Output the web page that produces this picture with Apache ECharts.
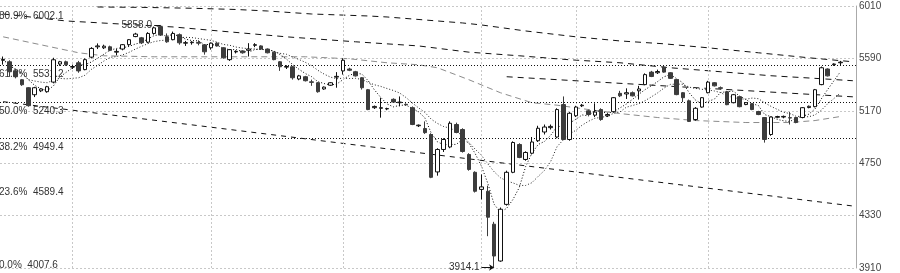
<!DOCTYPE html>
<html><head><meta charset="utf-8">
<script src="https://cdn.jsdelivr.net/npm/echarts/dist/echarts.min.js"></script>
<style>html,body{margin:0;padding:0;background:#fff}#c{width:900px;height:273px}</style>
</head><body><div id="c"></div>
<script>
// [open, close, low, high]
const ohlc = [
[5575,5582,5540,5605],[5563,5483,5443,5575],[5490,5443,5430,5500],[5419,5379,5370,5425],[5355,5211,5203,5360],
[5299,5355,5280,5362],[5330,5345,5320,5350],[5323,5363,5315,5370],[5400,5579,5390,5595],[5545,5563,5530,5570],
[5563,5539,5530,5572],[5520,5525,5505,5540],[5555,5490,5475,5570],[5500,5580,5495,5590],[5600,5670,5590,5680],
[5683,5690,5665,5710],[5675,5688,5665,5700],[5683,5655,5648,5692],[5640,5646,5615,5665],[5665,5700,5655,5705],
[5700,5740,5690,5745],[5765,5785,5760,5795],[5755,5715,5705,5762],[5720,5790,5712,5800],[5790,5835,5780,5845],
[5842,5778,5770,5858],[5763,5723,5715,5790],[5740,5790,5735,5805],[5780,5715,5700,5790],[5712,5716,5690,5730],
[5716,5720,5700,5728],[5718,5712,5695,5735],[5699,5643,5620,5705],[5675,5712,5660,5718],[5712,5690,5685,5720],
[5675,5595,5588,5680],[5580,5660,5570,5665],[5642,5646,5630,5655],[5650,5635,5628,5655],[5655,5665,5605,5712],
[5695,5700,5680,5712],[5690,5665,5660,5695],[5665,5635,5630,5670],[5640,5580,5575,5645],[5563,5523,5490,5568],
[5520,5525,5505,5535],[5523,5435,5420,5530],[5425,5450,5415,5458],[5443,5411,5405,5450],[5402,5398,5370,5420],
[5395,5323,5315,5400],[5345,5360,5338,5365],[5375,5395,5370,5400],[5440,5446,5355,5480],[5490,5575,5460,5590],
[5505,5495,5488,5515],[5483,5450,5445,5490],[5435,5355,5340,5440],[5339,5180,5175,5345],[5195,5205,5185,5212],
[5190,5195,5115,5275],[5185,5188,5175,5195],[5262,5240,5235,5270],[5235,5240,5205,5285],[5222,5218,5210,5230],
[5195,5060,5055,5205],[5050,5055,5040,5060],[5028,4995,4985,5085],[4980,4637,4630,4990],[4680,4860,4650,4870],
[4860,4940,4840,4950],[4880,5070,4870,5085],[5060,4996,4990,5075],[5020,4844,4835,5030],[4820,4700,4690,4830],
[4677,4525,4515,4685],[4540,4560,4460,4660],[4525,4317,4165,4570],[4261,4006,3914.1,4280],[3966,4381,3960,4395],
[4420,4677,4410,4690],[4677,4916,4670,4925],[4900,4796,4790,4910],[4780,4836,4770,4845],[4830,4920,4820,4960],
[4930,5030,4920,5050],[5000,5040,4980,5060],[5035,5045,5020,5060],[4960,5180,4950,5190],[5220,4940,4935,5285],
[4940,5150,4930,5160],[5130,5200,5120,5210],[5210,5215,5200,5225],[5170,5140,5130,5180],[5135,5160,5120,5230],
[5180,5100,5090,5190],[5130,5140,5120,5150],[5163,5275,5155,5280],[5310,5290,5280,5330],[5305,5315,5265,5350],
[5315,5290,5285,5325],[5330,5345,5260,5370],[5380,5460,5375,5470],[5480,5445,5440,5490],[5475,5485,5465,5500],
[5520,5480,5475,5530],[5475,5430,5425,5480],[5420,5300,5295,5425],[5315,5275,5240,5320],[5250,5085,5080,5260],
[5100,5190,5090,5200],[5200,5275,5195,5280],[5315,5400,5310,5410],[5395,5370,5365,5400],[5355,5350,5340,5365],
[5323,5219,5215,5330],[5235,5299,5230,5305],[5283,5203,5198,5290],[5220,5235,5215,5240],[5227,5180,5175,5232],
[5164,5140,5135,5170],[5116,4940,4915,5120],[4980,5120,4970,5125],[5118,5124,5110,5130],[5120,5125,5110,5132],
[5115,5112,5060,5160],[5116,5076,5070,5120],[5116,5195,5110,5200],[5196,5206,5190,5212],[5203,5339,5198,5345],
[5380,5515,5375,5525],[5505,5450,5445,5510],[5540,5545,5530,5550],[5555,5560,5530,5570]
];
const slotCount = 136;
const yTickLabels = ['3910','4330','4750','5170','5590','6010'];
const yMin = 3910, yMax = 6010;
const fibLevels = ['80.9%','61.8%','50.0%','38.2%','23.6%','0.0%'];
const fibValues = [6002.1, 5531.2, 5240.3, 4949.4, 4589.4, 4007.6];
const fibDrawn = [false, true, true, true, false, false];
const monthStarts = [11, 33, 54, 76, 91, 112];
// long moving average (grey) as [index, value]
const grayMA = [[0,5763],[6,5699],[12,5635],[16,5611],[24,5603],[36,5603],[48,5603],[55,5587],[61,5555],[66,5539],[69,5515],[74,5419],[79,5315],[84,5235],[88,5215],[93,5180],[98,5148],[104,5116],[110,5092],[118,5076],[125,5076],[129,5092],[133,5124]];
// dashed long-term lines
const lineE = [[15,6002],[22,5999],[30,5992],[37,5982],[42,5970],[49,5946],[58,5930],[61,5922],[67,5898],[73,5874],[76,5858],[83,5810],[91,5763],[98,5730],[105,5707],[112,5675],[120,5635],[128,5595],[135,5563]];
const lineD = [[0,5946],[10,5890],[27,5842],[45,5763],[56,5723],[66,5690],[74,5640],[82,5611],[90,5579],[98,5555],[106,5515],[114,5483],[122,5451],[130,5427],[135,5411]];
const lineH = [[80,5443],[135,5282]];
const lineC = [[0,5243],[135,4407]];

const cats = Array.from({length: slotCount}, (_, i) => String(i + 1));
const closes = ohlc.map(r => r[1]);
function movingAvg(n) {
  return closes.map((_, i) => {
    const s = Math.max(0, i - n + 1);
    let sum = 0;
    for (let k = s; k <= i; k++) sum += closes[k];
    return +(sum / (i - s + 1)).toFixed(1);
  });
}
let hiIdx = 0, loIdx = 0;
ohlc.forEach((r, i) => { if (r[3] > ohlc[hiIdx][3]) hiIdx = i; if (r[2] < ohlc[loIdx][2]) loIdx = i; });
const hiVal = ohlc[hiIdx][3], loVal = ohlc[loIdx][2];

const FONT = 'Liberation Sans, Arial, sans-serif';
const fibMarks = fibValues.map((v, i) => ({
  yAxis: v,
  lineStyle: { color: fibDrawn[i] ? '#111' : 'rgba(0,0,0,0)', width: 1, type: [1, 2] },
  label: { show: true, position: 'insideStartBottom', distance: [-1, 4], formatter: fibLevels[i] + '  ' + v.toFixed(1), color: '#333', fontSize: 10, fontFamily: FONT }
}));
const monthMarks = monthStarts.map(i => ({ xAxis: cats[i], lineStyle: { color: '#c8c8c8', width: 1, type: [2, 2] }, label: { show: false } }));

const dashed = (name, data, color, dash, z) => ({
  name, type: 'line', data, symbol: 'none', silent: true, z: z || 3,
  lineStyle: { color, width: 1, type: dash }
});

const option = {
  animation: false,
  backgroundColor: '#fff',
  grid: { left: 0, right: 44, top: 6, bottom: 3, containLabel: false },
  xAxis: { type: 'category', data: cats, boundaryGap: true, axisLine: { show: false }, axisTick: { show: false }, axisLabel: { show: false }, splitLine: { show: false } },
  yAxis: [
    { type: 'value', min: yMin, max: yMax, position: 'right', show: false, splitLine: { show: false } },
    { type: 'value', min: 0, max: yTickLabels.length - 1, interval: 1, position: 'right',
      axisLine: { show: true, lineStyle: { color: '#aaa' } }, axisTick: { show: false },
      axisLabel: { margin: 3, color: '#444', fontSize: 10, fontFamily: FONT, formatter: v => yTickLabels[v] },
      splitLine: { show: true, lineStyle: { color: '#c8c8c8', type: [2, 2] } } }
  ],
  series: [
    { type: 'line', data: closes.map(() => null), symbol: 'none', z: 1, markLine: { silent: true, symbol: 'none', data: monthMarks } },
    dashed('gray', grayMA, '#8c8c8c', [6, 4]),
    dashed('E', lineE, '#111', [6, 5]),
    dashed('D', lineD, '#111', [6, 5]),
    dashed('H', lineH, '#111', [6, 5]),
    dashed('C', lineC, '#111', [5, 5]),
    dashed('MA5', movingAvg(5), '#000', [1, 2], 4),
    dashed('MA10', movingAvg(10), '#222', [1, 2], 4),
    {
      type: 'candlestick', data: ohlc, barWidth: 4, z: 5,
      itemStyle: { color: '#fff', color0: '#3c3c3c', borderColor: '#111', borderColor0: '#3c3c3c', borderWidth: 1 },
      markLine: { silent: true, symbol: 'none', data: fibMarks },
      markPoint: {
        silent: true, symbol: 'circle', symbolSize: 1, itemStyle: { color: 'rgba(0,0,0,0)' },
        data: [
          { coord: [hiIdx, hiVal], label: { show: true, position: 'left', distance: 8, formatter: hiVal.toFixed(1), color: '#333', fontSize: 10, fontFamily: FONT } },
          { coord: [loIdx, loVal], label: { show: true, position: 'left', distance: 14, formatter: loVal.toFixed(1), color: '#333', fontSize: 10, fontFamily: FONT } }
        ]
      }
    },
    { type: 'line', data: closes.map(() => null), symbol: 'none', z: 6, markLine: { silent: true, symbol: ['none', 'none'], lineStyle: { color: '#111', width: 1, type: 'solid' }, label: { show: false },
      data: [
        [{ coord: [hiIdx - 1, hiVal] }, { coord: [hiIdx, hiVal] }],
        [{ coord: [loIdx - 2, loVal] }, { coord: [loIdx, loVal], symbol: 'arrow', symbolSize: 5 }]
      ] } }
  ]
};
echarts.init(document.getElementById('c'), null, { renderer: 'canvas' }).setOption(option);
</script></body></html>
